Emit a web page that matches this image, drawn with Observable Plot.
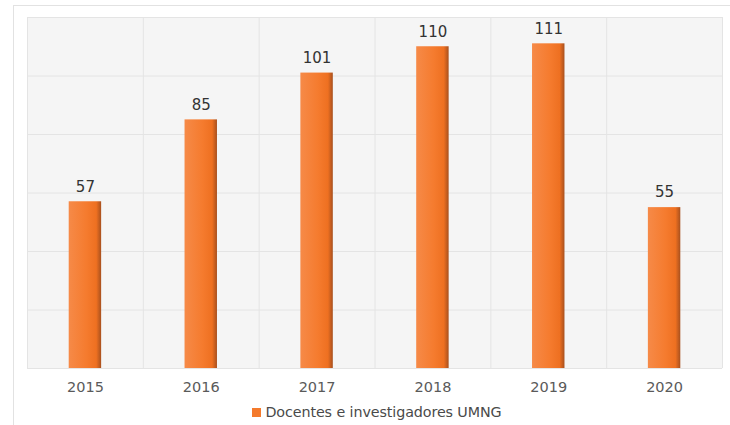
<!DOCTYPE html>
<html>
<head>
<meta charset="utf-8">
<script src="https://cdn.jsdelivr.net/npm/d3@7"></script>
<script src="https://cdn.jsdelivr.net/npm/@observablehq/plot@0.6"></script>
<style>
  html, body { margin: 0; padding: 0; background: #fff; }
  #wrap { position: relative; width: 730px; height: 425px; overflow: hidden; font-family: "DejaVu Sans", sans-serif; }
  #border { position: absolute; left: 13px; top: 5px; width: 720px; height: 440px; border: 1px solid #e2e2e2; box-sizing: border-box; }
  #chart { position: absolute; left: 0; top: 0; }
  #legend { position: absolute; left: 0; top: 404px; width: 754px; text-align: center; font-size: 14.3px; color: #4a4a4a; letter-spacing: -0.1px; }
  #legend .sw { display: inline-block; width: 9px; height: 9px; background: #f47a2c; margin-right: 4px; vertical-align: 0px; }
</style>
</head>
<body>
<div id="wrap">
  <div id="border"></div>
  <div id="chart"></div>
  <div id="legend"><span class="sw"></span>Docentes e investigadores UMNG</div>
</div>
<script>
const years = [2015, 2016, 2017, 2018, 2019, 2020];
const values = [57, 85, 101, 110, 111, 55];
const seriesName = "Docentes e investigadores UMNG";
const yTicks = [0, 20, 40, 60, 80, 100, 120];
const xBoundaries = [2014.5, 2015.5, 2016.5, 2017.5, 2018.5, 2019.5, 2020.5];

const data = years.map((y, i) => ({year: y, value: values[i]}));
const half = 0.14;

const plot = Plot.plot({
  width: 730,
  height: 395,
  marginLeft: 27,
  marginRight: 8,
  marginTop: 17,
  marginBottom: 27,
  style: {fontFamily: "'DejaVu Sans', sans-serif", background: "transparent"},
  x: {type: "linear", domain: [2014.5, 2020.5], axis: null},
  y: {domain: [0, 120], axis: null},
  marks: [
    Plot.frame({fill: "#f5f5f5", stroke: null}),
    Plot.ruleY(yTicks, {stroke: "#e4e4e4", strokeWidth: 1}),
    Plot.ruleX(xBoundaries, {stroke: "#e4e4e4", strokeWidth: 1}),
    Plot.rectY(data, {x1: d => d.year - half, x2: d => d.year + half, y1: 0, y2: "value", fill: "url(#barGrad)"}),
    Plot.text(data, {x: "year", y: "value", text: d => String(d.value), dy: -15, fontSize: 15, fontWeight: 500, fill: "#333333"}),
    Plot.text(years, {x: d => d, y: 0, text: d => String(d), dy: 19, fontSize: 14.5, fill: "#5a5a5a"})
  ]
});

const svg = d3.select(plot);
const defs = svg.insert("defs", ":first-child");
const g = defs.append("linearGradient").attr("id", "barGrad").attr("x1", "0").attr("x2", "1").attr("y1", "0").attr("y2", "0");
g.append("stop").attr("offset", "0%").attr("stop-color", "#f68a48");
g.append("stop").attr("offset", "55%").attr("stop-color", "#f57b2e");
g.append("stop").attr("offset", "85%").attr("stop-color", "#ee7021");
g.append("stop").attr("offset", "100%").attr("stop-color", "#a8501e");

document.getElementById("chart").appendChild(plot);
</script>
</body>
</html>
